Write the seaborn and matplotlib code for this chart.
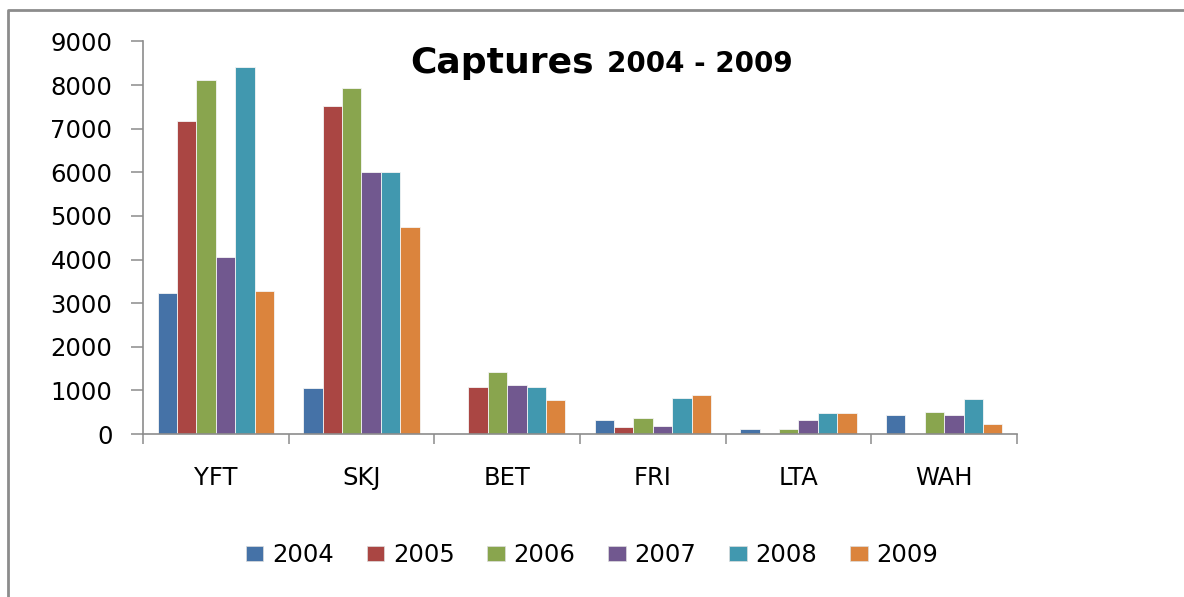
import pandas as pd
import numpy as np
import matplotlib
matplotlib.use('Agg')
import matplotlib.pyplot as plt
from matplotlib.lines import Line2D
import seaborn as sns

'''                  Data                             '''
species = ['YFT', 'SKJ', 'BET', 'FRI', 'LTA', 'WAH']
years = ['2004', '2005', '2006', '2007', '2008', '2009']
c2004 = [3240, 1060, 0, 310, 115, 425]
c2005 = [7170, 7510, 1070, 155, 0, 0]
c2006 = [8110, 7930, 1430, 360, 115, 515]
c2007 = [4050, 6010, 1120, 185, 330, 425]
c2008 = [8410, 6010, 1070, 815, 490, 795]
c2009 = [3270, 4750, 790, 905, 490, 240]
colors = ['#4572A7', '#AA4643', '#89A54E', '#71588F', '#4198AF', '#DB843D']

rows = []
for yr, vals in zip(years, [c2004, c2005, c2006, c2007, c2008, c2009]):
    for sp, v in zip(species, vals):
        rows.append({'species': sp, 'year': yr, 'catch': v})
df = pd.DataFrame(rows)

'''                  Plot                             '''
sns.set_style('white')
plt.rcParams['font.family'] = ['DejaVu Sans']
plt.rcParams['text.color'] = 'black'

W, H = 1184, 597
fig = plt.figure(figsize=(W / 100, H / 100), dpi=100)
ax = fig.add_axes([143 / W, 1 - 434 / H, (1017 - 143) / W, (434 - 41.5) / H])

sns.barplot(data=df, x='species', y='catch', hue='year', order=species,
            hue_order=years, palette=colors, width=0.8, saturation=1,
            edgecolor='#f4f4f4', linewidth=0.6, ax=ax)

ax.set_ylim(0, 9000)
ax.set_xlim(-0.5, len(species) - 0.5)
ax.set_yticks(np.arange(0, 9001, 1000))
ax.set_xlabel('')
ax.set_ylabel('')

grey = '#8c8c8c'
for s in ['top', 'right']:
    ax.spines[s].set_visible(False)
for s in ['left', 'bottom']:
    ax.spines[s].set_color(grey)
    ax.spines[s].set_linewidth(1.2)

ax.tick_params(axis='y', which='major', direction='out', length=9, width=1.1,
               color=grey, pad=13, labelsize=17.5, labelcolor='black', left=True)
ax.set_xticks(np.arange(-0.5, len(species)), minor=True)
ax.tick_params(axis='x', which='minor', direction='out', length=7, width=1.1,
               color=grey, bottom=True)
ax.tick_params(axis='x', which='major', length=0, pad=23, labelsize=17.5,
               labelcolor='black')

ax.legend_.remove()
handles = [plt.Rectangle((0, 0), 1, 1, fc=c, ec='#dddddd', lw=0.5) for c in colors]
fig.legend(handles, years, loc='center', bbox_to_anchor=(0.5, 1 - 555 / H),
           ncol=6, frameon=False, handlelength=0.72, handleheight=0.56,
           handletextpad=0.36, columnspacing=1.35, labelcolor='black',
           prop={'family': 'DejaVu Sans', 'size': 17.5})

# title in two sizes
fig.text(594 / W, 1 - 72.5 / H, 'Captures', ha='right', va='baseline',
         fontsize=26, fontweight='bold', color='black')
fig.text(607 / W, 1 - 72.5 / H, '2004 - 2009', ha='left', va='baseline',
         fontsize=20, fontweight='bold', color='black')

# chart frame (left and top edges visible)
fig.add_artist(Line2D([8 / W, 8 / W, 1], [0, 1 - 10 / H, 1 - 10 / H],
                      transform=fig.transFigure, color=grey, lw=2))

fig.savefig('out.png', dpi=100)
